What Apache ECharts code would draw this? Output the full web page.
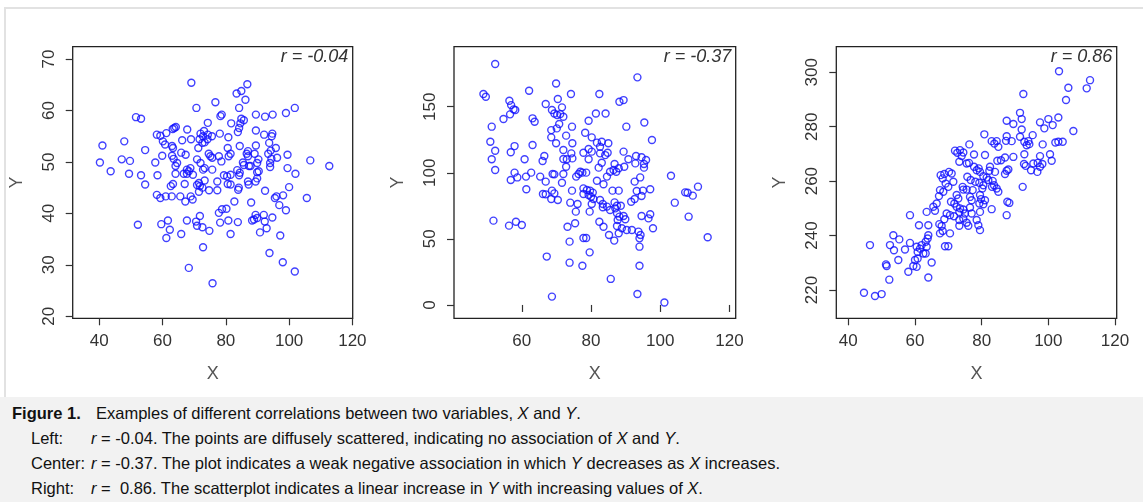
<!DOCTYPE html>
<html>
<head>
<meta charset="utf-8">
<script src="https://cdn.jsdelivr.net/npm/echarts@6/dist/echarts.min.js"></script>
<style>
  html, body { margin: 0; padding: 0; background: #fff; }
  #wrap { position: relative; width: 1143px; height: 502px; overflow: hidden; }
  #frame { position: absolute; left: 4px; top: 7px; right: 0; height: 390px;
           border-left: 2px solid #e2e2e2; border-top: 2px solid #e2e2e2; }
  #chart { position: absolute; left: 0; top: 0; width: 1143px; height: 397px; }
  #caption { position: absolute; left: 0; top: 397px; width: 1143px; height: 105px;
             background: #f2f2f2; font-family: "Liberation Sans", Arial, sans-serif;
             font-size: 16.5px; line-height: 25px; color: #111; padding-top: 4px; box-sizing: border-box; }
  #caption .row { padding-left: 12px; white-space: nowrap; }
  #caption .sub { padding-left: 31px; }
  #caption .fig { display: inline-block; width: 84px; font-weight: bold; }
  #caption .lab { display: inline-block; width: 60px; }
</style>
</head>
<body>
<div id="wrap">
  <div id="frame"></div>
  <div id="chart"></div>
  <div id="caption">
    <div class="row"><span class="fig">Figure 1.</span>Examples of different correlations between two variables, <i>X</i> and <i>Y</i>.</div>
    <div class="row sub"><span class="lab">Left:</span><i>r</i> = -0.04. The points are diffusely scattered, indicating no association of <i>X</i> and <i>Y</i>.</div>
    <div class="row sub"><span class="lab">Center:</span><i>r</i> = -0.37. The plot indicates a weak negative association in which <i>Y</i> decreases as <i>X</i> increases.</div>
    <div class="row sub"><span class="lab">Right:</span><i>r</i> =&nbsp; 0.86. The scatterplot indicates a linear increase in <i>Y</i> with increasing values of <i>X</i>.</div>
  </div>
</div>
<script>
// left panel (r = -0.04)
const leftData = [
  [69.1,65.4],[86.8,65.1],[83.4,63.3],[84.9,63.8],[86.2,62.1],[76.7,61.6],[70.7,60.5],[84.2,60.5],[101.8,60.5],
  [99.0,59.5],[89.5,59.2],[92.4,58.8],[94.8,59.2],[78.3,58.9],[78.7,59.2],[51.6,58.7],[53.2,58.4],[84.9,58.4],
  [85.7,58.1],[84.6,57.5],[74.3,57.6],[81.7,57.5],[84.2,56.6],[83.8,55.8],[89.5,56.1],[63.7,56.6],[64.2,56.8],
  [63.2,56.4],[67.8,56.3],[73.1,56.0],[58.2,55.3],[59.3,55.1],[61.2,55.6],[72.0,55.5],[72.8,55.0],[74.3,55.3],
  [75.6,55.0],[78.1,55.5],[80.8,54.8],[92.1,55.3],[94.7,55.5],[94.5,55.0],[66.2,54.2],[69.0,54.4],[60.1,54.0],
  [60.8,53.4],[71.7,54.4],[72.6,53.7],[74.2,54.4],[73.3,53.8],[93.7,53.7],[84.4,53.1],[41.0,53.2],[47.9,54.0],
  [63.0,53.1],[63.3,52.7],[89.5,53.2],[71.3,52.7],[80.6,52.7],[95.8,52.7],[94.2,52.2],[93.4,51.6],[54.5,52.3],
  [87.0,52.1],[86.6,51.6],[65.9,51.8],[67.3,51.4],[74.6,51.6],[75.1,51.1],[75.7,50.8],[81.5,51.6],[80.9,51.1],
  [89.1,51.6],[99.5,51.4],[63.0,51.2],[63.5,50.6],[77.8,51.1],[87.0,51.1],[59.9,51.2],[70.9,50.5],[72.0,49.8],
  [78.6,50.1],[90.3,50.5],[89.9,49.8],[94.4,50.6],[94.0,49.8],[96.2,50.8],[106.7,50.3],[112.7,49.2],[40.2,49.9],
  [47.1,50.5],[49.7,50.2],[57.7,49.9],[64.6,49.8],[64.1,49.2],[85.4,49.9],[85.7,49.4],[87.8,49.2],[94.0,49.0],
  [99.5,48.8],[43.6,48.2],[73.3,48.8],[72.8,48.5],[75.7,48.5],[67.7,48.5],[68.8,48.8],[68.3,48.2],[83.6,48.4],
  [84.4,47.9],[84.2,47.4],[87.3,49.2],[89.9,48.0],[90.4,48.2],[102.0,47.7],[49.4,47.7],[53.2,47.4],[58.4,47.4],
  [64.1,47.7],[66.7,47.7],[67.7,47.7],[69.6,47.5],[79.4,47.4],[81.5,47.5],[80.4,47.2],[89.9,46.8],[89.4,46.2],
  [87.0,46.2],[54.5,45.6],[77.3,46.2],[80.6,45.7],[81.5,45.6],[71.5,45.9],[70.9,45.5],[71.8,45.3],[72.6,45.0],
  [73.3,46.4],[67.0,45.7],[63.3,45.7],[62.6,45.3],[84.1,45.0],[83.9,44.6],[87.2,45.6],[100.0,45.1],[74.7,44.5],
  [77.3,44.5],[71.5,44.2],[92.4,44.4],[58.2,43.6],[59.3,43.0],[61.0,43.3],[62.9,43.3],[65.6,43.3],[68.9,43.3],
  [69.5,42.7],[67.2,42.3],[96.0,43.3],[95.5,43.0],[98.1,43.5],[105.6,43.0],[82.7,42.3],[88.0,42.1],[96.9,41.6],
  [77.8,40.1],[78.8,40.8],[80.2,40.9],[99.0,40.6],[71.8,39.5],[89.4,39.7],[89.9,39.1],[88.9,38.8],[92.0,39.7],
  [94.7,39.2],[61.7,38.6],[59.6,37.9],[67.7,38.6],[70.6,38.4],[70.9,37.6],[72.6,37.3],[78.2,38.2],[80.8,38.6],
  [83.8,38.3],[88.3,38.6],[92.3,38.4],[52.2,37.8],[62.3,36.8],[74.8,36.6],[92.9,37.1],[65.9,36.0],[81.5,36.0],
  [90.8,36.3],[97.2,35.7],[61.2,35.2],[72.8,33.4],[93.8,32.3],[98.0,30.5],[68.3,29.4],[101.8,28.7],[75.8,26.4]
];

// center panel (r = -0.37)
const centerData = [
  [52.3,182.3],[48.9,159.6],[49.6,157.5],[62.1,162.1],[69.9,167.6],[74.2,159.6],[82.4,159.6],[93.4,172.2],
  [89.4,155.0],[88.2,153.8],[56.4,154.5],[56.9,151.2],[57.6,148.0],[58.1,147.5],[56.6,144.2],[54.7,140.7],
  [66.9,152.0],[70.4,155.8],[68.7,147.5],[69.4,144.9],[70.2,143.7],[71.1,144.4],[71.6,149.5],[72.0,142.4],
  [63.1,141.2],[63.7,138.6],[81.4,144.9],[84.2,144.9],[79.3,139.4],[95.4,138.1],[90.2,134.9],[74.5,134.9],
  [51.3,134.9],[70.8,136.9],[68.5,132.3],[70.1,133.6],[78.3,130.3],[72.8,128.1],[68.5,126.8],[80.2,126.8],
  [97.6,124.8],[81.7,122.8],[83.1,123.5],[85.0,122.3],[50.9,123.5],[69.9,122.3],[74.6,122.3],[63.1,121.0],
  [57.9,120.2],[82.6,119.7],[52.3,116.7],[56.8,115.5],[72.0,117.2],[74.3,114.7],[79.3,118.0],[80.2,116.0],
  [89.4,116.0],[77.8,115.2],[82.6,114.7],[84.1,113.4],[84.8,115.2],[66.5,112.7],[60.8,110.2],[51.3,110.2],
  [72.0,110.4],[73.0,110.2],[74.6,110.9],[93.0,112.7],[94.6,111.7],[95.9,109.7],[95.3,106.6],[90.8,110.2],
  [66.0,108.9],[79.3,110.2],[83.1,107.6],[86.8,106.6],[92.8,107.1],[89.6,104.6],[88.0,103.4],[72.8,104.6],
  [95.3,103.9],[82.2,103.9],[86.5,102.1],[85.5,100.8],[87.3,100.8],[52.3,102.1],[76.9,100.8],[77.5,100.1],
  [78.6,100.1],[76.4,99.1],[57.9,100.1],[62.7,100.1],[68.9,99.1],[69.4,98.8],[72.0,99.1],[103.1,97.8],
  [61.2,97.1],[65.3,97.1],[58.7,96.5],[56.8,94.5],[75.7,97.1],[84.6,97.1],[94.2,96.5],[71.6,92.5],
  [81.7,94.0],[92.6,93.3],[66.9,93.3],[83.6,91.3],[110.9,89.5],[61.3,87.5],[74.5,86.5],[77.8,88.2],
  [78.8,87.0],[79.7,86.5],[80.5,85.0],[86.2,86.5],[88.0,86.5],[95.0,86.5],[97.1,87.5],[107.2,85.2],
  [107.9,84.9],[109.4,82.7],[68.7,86.5],[69.4,84.4],[66.1,83.9],[66.9,83.7],[77.8,83.9],[79.3,83.2],
  [80.0,81.9],[93.2,86.2],[94.6,82.4],[68.5,80.2],[70.4,79.4],[80.7,80.2],[92.6,80.2],[91.6,78.1],
  [82.6,79.4],[74.0,77.4],[76.1,76.4],[80.2,76.4],[83.4,76.4],[84.6,74.4],[86.8,77.6],[87.5,75.1],
  [88.6,75.1],[87.0,73.1],[104.2,77.4],[83.4,73.9],[75.6,70.6],[79.6,70.6],[85.5,71.8],[87.5,69.3],
  [88.2,66.8],[89.4,67.3],[89.9,64.8],[87.7,64.3],[97.1,68.6],[96.6,65.5],[94.6,67.3],[108.2,66.8],
  [51.8,63.8],[56.3,60.0],[58.3,63.0],[60.0,60.5],[75.4,61.8],[82.4,63.0],[73.2,59.2],[83.6,59.2],
  [87.5,59.7],[88.9,58.0],[90.3,56.7],[91.8,56.7],[97.9,58.0],[93.7,55.5],[94.3,52.9],[94.0,50.4],
  [85.2,52.9],[88.0,54.2],[77.8,50.7],[78.6,50.7],[113.7,51.2],[73.8,47.9],[86.7,48.7],[94.0,44.1],
  [79.6,39.8],[67.2,36.6],[73.8,32.0],[77.5,29.7],[94.0,29.7],[85.7,19.7],[68.7,6.3],[93.4,8.3],[101.2,1.8]
];

// right panel (r = 0.86)
const rightData = [
  [103.2,300.4],[112.5,297.1],[111.5,294.1],[106.0,294.3],[105.3,289.8],[92.5,292.0],[91.5,285.1],[92.0,282.8],
  [87.5,282.2],[89.5,281.0],[97.5,281.6],[100.0,282.8],[98.8,279.4],[101.3,280.6],[103.0,283.4],[107.5,278.4],
  [92.0,279.0],[80.8,277.2],[87.5,276.5],[87.3,274.8],[91.5,276.3],[95.3,276.9],[83.0,274.7],[84.5,274.7],
  [85.0,272.6],[83.8,273.8],[89.0,274.7],[92.8,274.5],[93.5,273.2],[94.3,273.6],[94.0,274.7],[98.3,273.5],
  [102.1,274.2],[103.0,274.5],[104.3,274.5],[76.3,273.5],[72.0,271.2],[72.7,270.4],[73.5,271.4],[74.5,270.5],
  [74.0,269.2],[77.7,269.8],[81.0,269.6],[89.5,268.9],[92.8,269.9],[87.0,268.7],[85.8,267.7],[97.5,269.2],
  [100.5,269.9],[101.0,267.5],[84.7,267.5],[73.3,267.1],[75.5,266.5],[76.2,266.7],[92.7,266.3],[93.2,265.6],
  [95.5,266.5],[96.8,266.7],[98.2,266.3],[97.5,265.3],[94.8,264.0],[96.7,263.4],[77.7,265.3],[78.5,264.0],
  [79.1,264.7],[79.5,263.4],[82.5,265.3],[82.3,263.8],[87.5,263.8],[87.0,262.6],[88.0,264.3],[84.0,263.4],
  [70.2,263.4],[71.0,262.8],[67.7,262.2],[68.3,261.0],[68.8,262.6],[75.7,261.6],[80.5,261.8],[81.5,261.3],
  [82.0,260.4],[76.7,260.4],[78.1,259.8],[79.3,259.4],[83.3,260.1],[83.7,258.5],[83.1,257.9],[80.5,258.5],
  [80.2,257.3],[71.5,259.8],[69.2,259.1],[70.0,257.9],[92.3,257.9],[84.5,257.3],[85.0,256.1],[67.5,256.7],
  [68.5,256.1],[74.3,257.9],[74.5,256.9],[75.5,256.9],[77.3,256.7],[72.5,254.9],[73.0,253.6],[76.5,254.2],
  [77.0,253.0],[79.5,254.9],[79.8,253.4],[81.0,253.0],[67.2,254.5],[70.8,252.4],[71.8,251.8],[87.7,252.4],
  [88.3,252.0],[79.3,251.8],[80.5,251.5],[66.5,251.8],[65.5,250.6],[72.5,250.6],[73.5,250.0],[74.5,249.6],
  [73.3,248.7],[76.5,250.3],[83.0,249.7],[66.0,249.1],[63.5,248.7],[79.5,248.7],[77.0,248.1],[69.5,248.1],
  [70.5,247.5],[71.7,247.1],[75.0,248.1],[74.5,246.3],[87.5,247.5],[58.5,247.5],[68.8,246.0],[73.3,245.7],
  [75.5,244.7],[78.5,245.7],[61.2,243.8],[64.0,243.8],[67.3,244.2],[68.0,243.5],[73.3,243.6],[76.0,243.6],
  [79.0,243.8],[79.5,242.0],[67.5,240.8],[68.3,241.7],[70.5,240.8],[64.0,240.1],[63.8,238.9],[53.5,240.1],
  [55.3,238.6],[58.5,237.3],[52.5,236.5],[53.7,234.6],[57.0,234.9],[46.5,236.5],[60.5,235.9],[61.5,235.2],
  [60.8,234.0],[62.0,236.5],[62.5,233.4],[63.2,237.7],[63.5,235.9],[69.0,236.1],[70.0,236.1],[63.2,233.4],
  [60.0,231.0],[60.8,231.6],[55.0,231.0],[51.3,229.4],[51.5,228.8],[59.5,228.8],[60.5,228.5],[65.0,230.1],
  [58.0,226.7],[52.3,223.8],[64.0,224.6],[44.7,219.0],[48.0,217.8],[50.0,218.5]
];

// axis ranges and tick labels
const leftXRange = [31.6, 120.1];
const leftYRange = [19.6, 72.4];
const centerXRange = [40.4, 121.8];
const centerYRange = [-10.1, 195.4];
const rightXRange = [36.4, 120.5];
const rightYRange = [209.6, 309.4];

const leftXTicks = [40, 60, 80, 100, 120];
const leftYTicks = [20, 30, 40, 50, 60, 70];
const centerXTicks = [60, 80, 100, 120];
const centerYTicks = [0, 50, 100, 150];
const rightXTicks = [40, 60, 80, 100, 120];
const rightYTicks = [220, 240, 260, 280, 300];

const rLabels = ['r = -0.04', 'r = -0.37', 'r = 0.86'];

const chart = echarts.init(document.getElementById('chart'));
const FONT = '"Liberation Sans", Arial, sans-serif';

const grids = [
  { left: 72.7, top: 46.7, width: 280, height: 271.6 },
  { left: 454, top: 46.7, width: 281.7, height: 271.6 },
  { left: 836.3, top: 46.7, width: 280.4, height: 271.6 }
];

function makeAxis(idx, range, ticks, isY) {
  return {
    type: 'value',
    gridIndex: idx,
    min: range[0],
    max: range[1],
    name: isY ? 'Y' : 'X',
    nameLocation: 'middle',
    nameGap: 47,
    nameTextStyle: { fontFamily: FONT, fontSize: 18, color: '#555' },
    axisLine: { show: false },
    axisTick: { show: true, length: 7, customValues: ticks, lineStyle: { color: '#333', width: 1.2 } },
    axisLabel: {
      customValues: ticks,
      rotate: isY ? 90 : 0,
      margin: 15,
      fontFamily: FONT,
      fontSize: 17,
      color: '#333'
    },
    splitLine: { show: false }
  };
}

const datasets = [leftData, centerData, rightData];
const xRanges = [leftXRange, centerXRange, rightXRange];
const yRanges = [leftYRange, centerYRange, rightYRange];
const xTicks = [leftXTicks, centerXTicks, rightXTicks];
const yTicks = [leftYTicks, centerYTicks, rightYTicks];

const option = {
  animation: false,
  backgroundColor: 'transparent',
  title: grids.map((g, i) => ({
    text: rLabels[i],
    right: 1143 - (g.left + g.width) + 4.5,
    top: 48,
    padding: 0,
    textStyle: { fontFamily: FONT, fontSize: 18, fontStyle: 'italic', fontWeight: 'normal', color: '#333' }
  })),
  grid: grids.map(g => Object.assign({
    show: true, borderColor: '#222', borderWidth: 1.3, backgroundColor: 'transparent'
  }, g)),
  xAxis: grids.map((g, i) => makeAxis(i, xRanges[i], xTicks[i], false)),
  yAxis: grids.map((g, i) => makeAxis(i, yRanges[i], yTicks[i], true)),
  series: datasets.map((d, i) => ({
    type: 'scatter',
    xAxisIndex: i,
    yAxisIndex: i,
    data: d,
    symbol: 'circle',
    symbolSize: 7,
    itemStyle: { color: 'rgba(0,0,0,0)', borderColor: '#1010ff', borderWidth: 1.4 }
  }))
};

chart.setOption(option);
</script>
</body>
</html>
